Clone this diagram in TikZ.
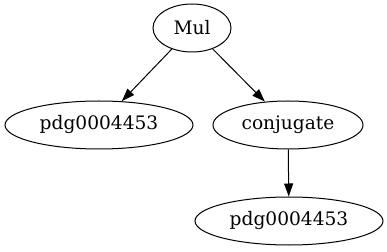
\documentclass[tikz,border=0pt]{standalone}
\usepackage{fontspec}
\setmainfont{DejaVu Serif}
\usetikzlibrary{shapes.geometric,arrows.meta}
\begin{document}
\begin{tikzpicture}[x=1pt,y=1pt,
  nd/.style={draw,ellipse,line width=1pt,inner sep=0pt,minimum height=48pt,font=\fontsize{18.6}{22}\selectfont},
  edge/.style={draw,line width=1pt,-{Triangle[length=13pt,width=9pt]}}]
\useasboundingbox (0,0) rectangle (387,251);
\node[nd,minimum width=78pt] (mul) at (192,223) {Mul};
\node[nd,minimum width=188pt] (p1) at (99,126) {pdg0004453};
\node[nd,minimum width=150pt] (conj) at (288,126) {conjugate};
\node[nd,minimum width=188pt] (p2) at (289,30) {pdg0004453};
\draw[edge] (mul) -- (p1);
\draw[edge] (mul) -- (conj);
\draw[edge] (conj) -- (p2);
\end{tikzpicture}
\end{document}
